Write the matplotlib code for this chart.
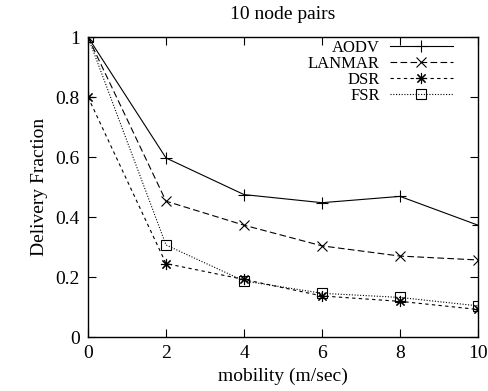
import matplotlib
matplotlib.use("Agg")
import matplotlib.pyplot as plt

mobility = [0, 2, 4, 6, 8, 10]
aodv = [1.0, 0.597, 0.475, 0.448, 0.469, 0.373]
lanmar = [1.0, 0.453, 0.373, 0.304, 0.270, 0.257]
dsr = [0.8, 0.245, 0.192, 0.137, 0.119, 0.092]
fsr = [1.0, 0.307, 0.187, 0.146, 0.132, 0.104]

plt.rcParams['font.family'] = ['Liberation Serif', 'DejaVu Serif']

fig = plt.figure(figsize=(4.89, 3.91), dpi=100)
ax = fig.add_axes([0.18, 0.138, 0.7975, 0.767])

lw = 0.8
ax.plot(mobility, aodv, color='black', lw=lw, ls='-', marker='+', ms=8, mew=0.8, label='AODV')
ax.plot(mobility, lanmar, color='black', lw=lw, ls=(0, (6, 3)), marker='x', ms=7, mew=0.8, label='LANMAR')
ax.plot(mobility, dsr, color='black', lw=lw, ls=(0, (3, 3)), marker=(8, 2, 0), ms=8, mew=0.8, label='DSR')
ax.plot(mobility, fsr, color='black', lw=lw, ls=(0, (1, 1.5)), marker='s', ms=7, mew=0.8,
        mfc='none', label='FSR')

ax.set_xlim(0, 10)
ax.set_ylim(0, 1)
ax.set_xticks(mobility)
ax.set_yticks([0, 0.2, 0.4, 0.6, 0.8, 1])
ax.set_yticklabels(['0', '0.2', '0.4', '0.6', '0.8', '1'])
ax.tick_params(direction='in', top=True, right=True, length=6, width=0.8, labelsize=14, pad=6)
for s in ax.spines.values():
    s.set_linewidth(1.0)

ax.set_title('10 node pairs', fontsize=14, pad=13)
ax.set_xlabel('mobility (m/sec)', fontsize=14, labelpad=4)
ax.set_ylabel('Delivery Fraction', fontsize=14, labelpad=5)

leg = ax.legend(loc='upper right', bbox_to_anchor=(0.936, 0.99), frameon=False,
                markerfirst=False, fontsize=12, handlelength=3.8, labelspacing=0.0,
                borderaxespad=0, borderpad=0, handletextpad=0.6)

fig.savefig('out.png', dpi=100)
